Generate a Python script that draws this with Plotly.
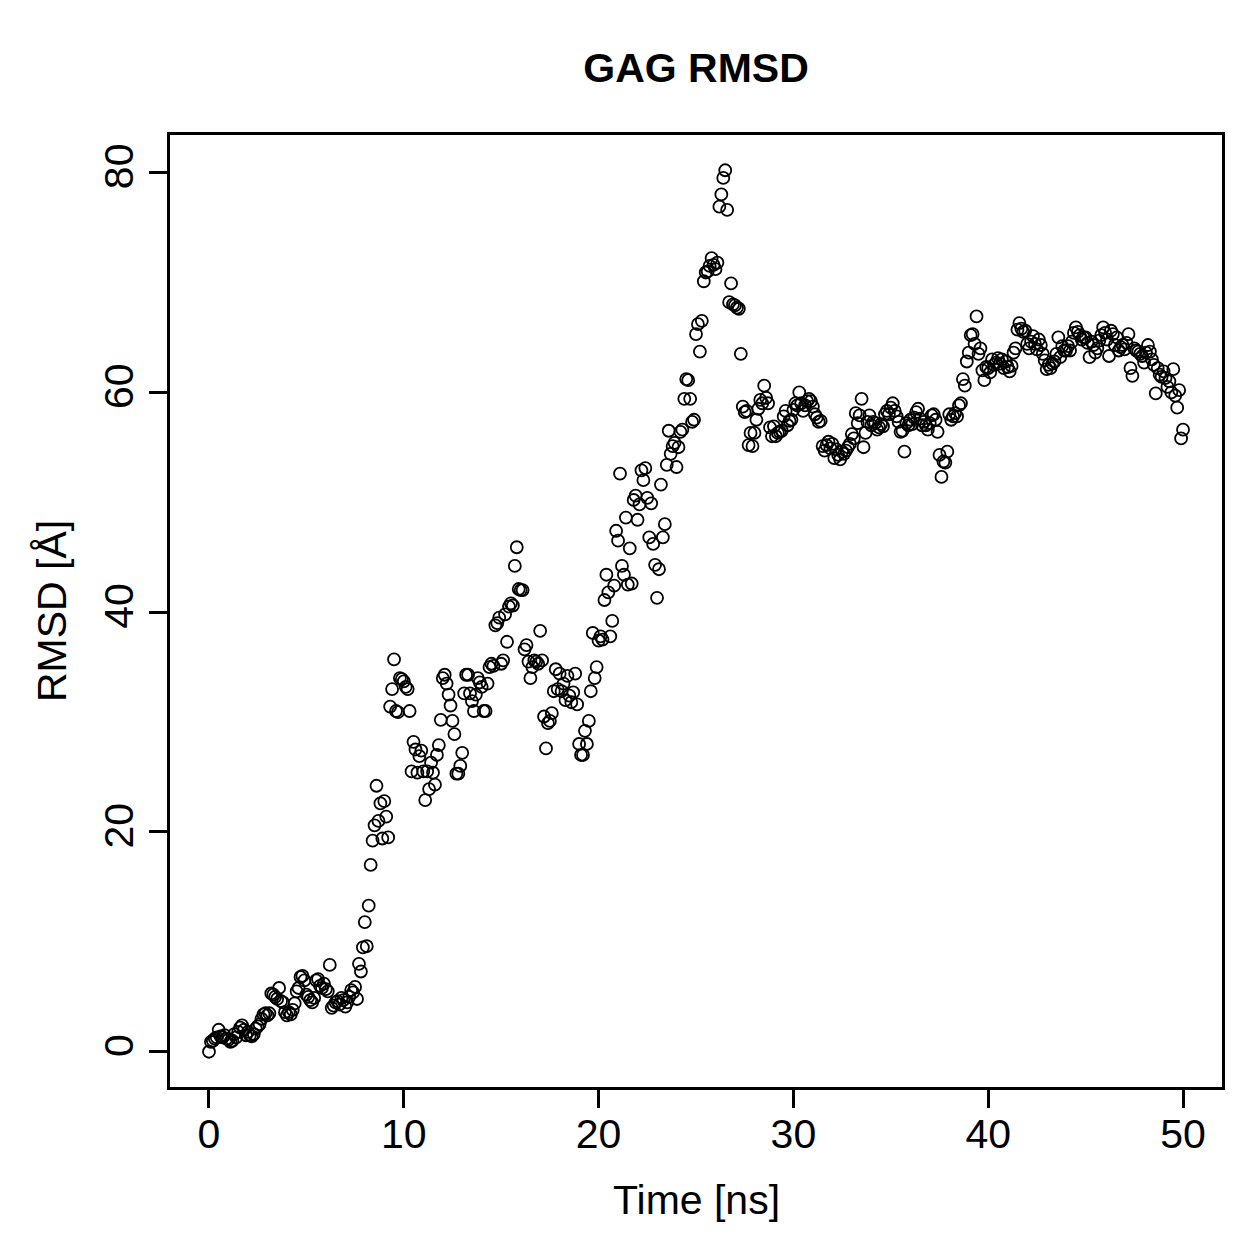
import plotly.graph_objects as go

# RMSD values per 0.1 ns frame, grouped by nanosecond
rmsd_00 = [0.0, 0.9, 1.0, 1.2, 1.3, 2.0, 1.4, 1.3, 1.5, 1.2]
rmsd_01 = [1.1, 0.9, 1.0, 1.6, 1.3, 1.8, 2.2, 2.4, 2.0, 1.5]
rmsd_02 = [1.8, 1.5, 1.4, 1.6, 2.1, 2.3, 2.5, 3.0, 3.4, 3.5]
rmsd_03 = [3.3, 3.5, 5.3, 5.2, 5.0, 4.8, 5.8, 4.6, 4.5, 3.6]
rmsd_04 = [3.3, 3.6, 3.4, 3.8, 4.4, 5.5, 5.8, 6.8, 6.9, 6.5]
rmsd_05 = [5.2, 5.0, 4.7, 4.5, 4.9, 6.5, 6.6, 6.0, 5.8, 6.2]
rmsd_06 = [5.7, 5.5, 7.9, 4.0, 4.2, 4.5, 4.6, 4.3, 4.9, 4.7]
rmsd_07 = [4.1, 4.5, 5.0, 5.6, 5.4, 5.9, 4.8, 8.0, 7.3, 9.5]
rmsd_08 = [11.8, 9.6, 13.3, 17.0, 19.2, 20.6, 24.2, 21.0, 22.6, 19.4]
rmsd_09 = [22.8, 21.4, 19.5, 31.4, 33.0, 35.7, 31.0, 30.9, 34.0, 33.9]
rmsd_10 = [33.7, 33.2, 33.0, 31.0, 25.5, 28.2, 27.5, 25.4, 26.9, 27.4]
rmsd_11 = [25.5, 22.9, 25.5, 23.9, 26.3, 25.4, 24.3, 27.0, 27.9, 30.2]
rmsd_12 = [34.0, 34.3, 33.5, 32.5, 31.5, 30.1, 28.9, 25.3, 25.3, 26.0]
rmsd_13 = [27.2, 32.6, 34.3, 34.3, 32.6, 31.9, 31.0, 32.5, 34.0, 33.6]
rmsd_14 = [33.2, 31.0, 31.0, 33.5, 35.0, 35.3, 35.1, 38.8, 39.0, 39.5]
rmsd_15 = [35.3, 35.6, 39.8, 37.3, 40.5, 40.8, 40.6, 44.2, 45.9, 42.1]
rmsd_16 = [42.0, 42.0, 36.6, 37.0, 35.5, 34.0, 35.0, 35.6, 35.5, 35.3]
rmsd_17 = [38.3, 35.6, 30.5, 27.6, 29.9, 30.1, 30.8, 32.8, 34.8, 33.0]
rmsd_18 = [34.4, 32.8, 33.5, 32.0, 34.2, 32.4, 31.8, 32.7, 34.4, 31.6]
rmsd_19 = [28.0, 27.0, 27.0, 29.2, 28.0, 30.1, 32.8, 38.1, 34.0, 35.0]
rmsd_20 = [37.4, 37.8, 37.5, 41.1, 43.4, 41.8, 37.8, 39.2, 42.4, 47.4]
rmsd_21 = [46.5, 52.6, 44.2, 43.4, 48.6, 42.5, 45.8, 42.6, 50.2, 50.6]
rmsd_22 = [48.4, 49.8, 52.9, 52.0, 53.1, 50.4, 46.8, 49.9, 46.2, 44.3]
rmsd_23 = [41.3, 43.9, 51.6, 46.8, 48.0, 53.4, 56.5, 54.4, 55.1, 55.4]
rmsd_24 = [53.2, 55.0, 56.4, 56.6, 59.4, 61.2, 61.1, 59.4, 57.3, 57.5]
rmsd_25 = [65.3, 66.2, 63.7, 66.5, 70.1, 70.9, 71.0, 71.5, 72.2, 71.6]
rmsd_26 = [71.2, 71.8, 76.9, 78.0, 79.5, 80.2, 76.6, 68.2, 69.9, 68.0]
rmsd_27 = [67.9, 67.7, 67.6, 63.5, 58.7, 58.2, 58.3, 55.2, 56.3, 55.1]
rmsd_28 = [56.3, 57.5, 58.5, 59.3, 59.0, 60.6, 59.5, 59.0, 56.8, 56.0]
rmsd_29 = [56.9, 56.0, 56.3, 56.4, 56.5, 57.8, 58.3, 57.0, 57.4, 57.5]
rmsd_30 = [58.4, 59.0, 58.8, 60.0, 59.0, 58.3, 58.8, 59.2, 59.4, 59.2]
rmsd_31 = [58.7, 58.0, 57.7, 57.3, 57.4, 55.1, 54.7, 55.2, 55.5, 54.9]
rmsd_32 = [55.3, 54.0, 54.8, 54.3, 53.9, 54.6, 54.4, 54.7, 55.0, 55.3]
rmsd_33 = [56.2, 55.8, 58.1, 57.2, 57.9, 59.4, 55.0, 56.3, 57.3, 57.9]
rmsd_34 = [57.0, 57.3, 57.2, 56.6, 56.8, 57.1, 56.9, 58.0, 58.3, 58.0]
rmsd_35 = [58.6, 59.0, 58.3, 57.8, 57.3, 56.4, 56.5, 54.6, 57.2, 57.0]
rmsd_36 = [57.5, 57.1, 57.7, 58.2, 58.5, 57.6, 57.0, 57.3, 57.0, 56.6]
rmsd_37 = [57.2, 57.9, 58.0, 57.5, 56.4, 54.3, 52.3, 53.7, 53.6, 54.6]
rmsd_38 = [58.0, 57.5, 57.8, 58.1, 57.8, 58.8, 59.0, 61.2, 60.6, 62.8]
rmsd_39 = [63.6, 65.2, 65.3, 64.4, 66.9, 63.5, 64.0, 62.0, 61.1, 62.3]
rmsd_40 = [62.2, 61.8, 63.0, 62.5, 62.7, 63.1, 62.6, 63.0, 62.2, 62.8]
rmsd_41 = [62.3, 61.9, 62.4, 63.6, 64.0, 65.7, 66.3, 65.8, 65.5, 65.6]
rmsd_42 = [64.4, 64.0, 64.6, 65.1, 64.4, 63.9, 64.8, 64.3, 63.5, 62.9]
rmsd_43 = [62.1, 62.5, 62.2, 62.6, 62.8, 63.5, 65.0, 63.2, 64.2, 63.8]
rmsd_44 = [63.8, 64.2, 63.8, 64.6, 65.4, 65.9, 65.5, 65.2, 64.8, 65.0]
rmsd_45 = [65.0, 64.5, 63.2, 64.6, 64.3, 63.6, 64.0, 64.7, 65.2, 65.9]
rmsd_46 = [65.4, 64.8, 63.3, 65.6, 65.3, 64.3, 65.0, 63.8, 64.1, 64.3]
rmsd_47 = [63.9, 64.5, 65.3, 62.2, 61.5, 64.0, 63.8, 63.7, 63.5, 63.3]
rmsd_48 = [62.7, 63.6, 64.3, 63.7, 63.0, 62.5, 59.9, 62.2, 61.6, 61.4]
rmsd_49 = [61.9, 61.3, 60.5, 61.0, 60.0, 62.1, 59.7, 58.6, 60.2, 55.8]
rmsd_50 = [56.6]

rmsd = (rmsd_00 + rmsd_01 + rmsd_02 + rmsd_03 + rmsd_04 + rmsd_05 + rmsd_06
        + rmsd_07 + rmsd_08 + rmsd_09 + rmsd_10 + rmsd_11 + rmsd_12 + rmsd_13
        + rmsd_14 + rmsd_15 + rmsd_16 + rmsd_17 + rmsd_18 + rmsd_19 + rmsd_20
        + rmsd_21 + rmsd_22 + rmsd_23 + rmsd_24 + rmsd_25 + rmsd_26 + rmsd_27
        + rmsd_28 + rmsd_29 + rmsd_30 + rmsd_31 + rmsd_32 + rmsd_33 + rmsd_34
        + rmsd_35 + rmsd_36 + rmsd_37 + rmsd_38 + rmsd_39 + rmsd_40 + rmsd_41
        + rmsd_42 + rmsd_43 + rmsd_44 + rmsd_45 + rmsd_46 + rmsd_47 + rmsd_48
        + rmsd_49 + rmsd_50)

# frame times: one frame every 0.1 ns
time_ns = [round(i * 0.1, 1) for i in range(len(rmsd))]

x_ticks = [0, 10, 20, 30, 40, 50]
y_ticks = [0, 20, 40, 60, 80]

FONT = "Liberation Sans, Arial, Helvetica, sans-serif"

fig = go.Figure()
fig.add_trace(go.Scatter(
    x=time_ns, y=rmsd, mode="markers",
    marker=dict(symbol="circle-open", size=12, color="black",
                line=dict(width=1.8, color="black")),
    showlegend=False,
))

L, R, T, B = 170, 37, 135, 172
fig.update_layout(
    width=1259, height=1259,
    margin=dict(l=L, r=R, t=T, b=B),
    paper_bgcolor="white", plot_bgcolor="white",
    font=dict(family=FONT, size=41, color="black"),
    title=dict(text="<b>GAG RMSD</b>", x=(L + (1259 - R)) / 2 / 1259, xanchor="center",
               y=1 - 68 / 1259, yanchor="middle", yref="container",
               font=dict(family=FONT, size=41, color="black")),
)
fig.update_xaxes(
    range=[-2, 52], tickmode="array", tickvals=x_ticks,
    ticktext=[str(v) for v in x_ticks],
    showgrid=False, zeroline=False,
    showline=True, mirror=True, linecolor="black", linewidth=3,
    ticks="outside", ticklen=18, tickwidth=3, tickcolor="black",
    tickfont=dict(family=FONT, size=41), ticklabelstandoff=-9,
)
fig.update_yaxes(
    range=[-3.208, 83.408], tickmode="array", tickvals=y_ticks,
    ticktext=[str(v) for v in y_ticks], tickangle=-90,
    showgrid=False, zeroline=False,
    showline=True, mirror=True, linecolor="black", linewidth=3,
    ticks="outside", ticklen=18, tickwidth=3, tickcolor="black",
    tickfont=dict(family=FONT, size=41),
)
plot_h = 1259 - T - B
plot_w = 1259 - L - R
fig.add_annotation(text="Time [ns]", xref="paper", yref="paper",
                   x=0.5, y=-(1200 - (1259 - B)) / plot_h,
                   xanchor="center", yanchor="middle", showarrow=False,
                   font=dict(family=FONT, size=41))
fig.add_annotation(text="RMSD [Å]", xref="paper", yref="paper",
                   x=-(L - 52) / plot_w, y=0.5, textangle=-90,
                   xanchor="center", yanchor="middle", showarrow=False,
                   font=dict(family=FONT, size=41))

fig.write_html("out.html")
